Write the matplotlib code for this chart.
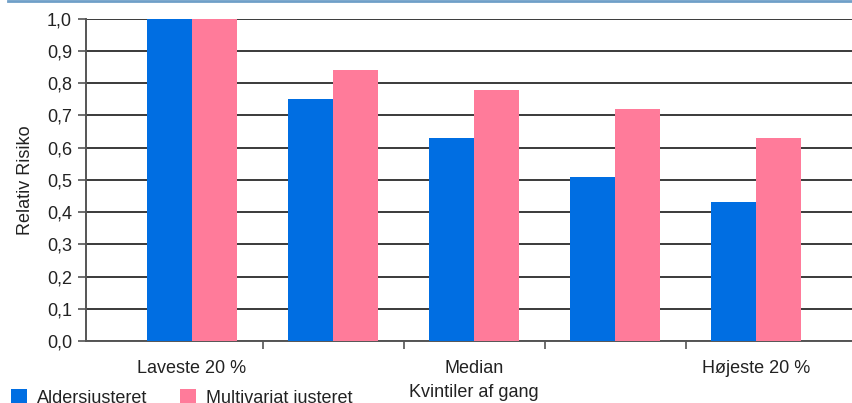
import numpy as np
import matplotlib
matplotlib.use("Agg")
from matplotlib import pyplot as plt
from matplotlib.lines import Line2D

plt.rcParams['font.family'] = ['Liberation Sans', 'DejaVu Sans']

groups = ["Laveste 20 %", "", "Median", "", "Højeste 20 %"]
aldersjusteret = [1.00, 0.75, 0.63, 0.51, 0.43]
multivariat = [1.00, 0.84, 0.78, 0.72, 0.63]
series_names = ["Aldersjusteret", "Multivariat justeret"]
yticks = [0.0, 0.1, 0.2, 0.3, 0.4, 0.5, 0.6, 0.7, 0.8, 0.9, 1.0]

blue = '#006ee2'
pink = '#ff7b9a'
txt = '#222222'

fig = plt.figure(figsize=(8.53, 4.03), dpi=100)
ax = fig.add_axes([86/853, 62/403, 1 - 86/853, (341 - 18.7)/403])

x = np.arange(len(groups))
w = 0.316
b1 = ax.bar(x - w/2, aldersjusteret, w, color=blue, zorder=3, label=series_names[0])
b2 = ax.bar(x + w/2, multivariat, w, color=pink, zorder=3, label=series_names[1])

ax.set_xlim(-0.752, 4.688)
ax.set_ylim(0, 1.0)
ax.set_yticks(yticks)
ax.set_yticklabels([("%.1f" % v).replace('.', ',') for v in yticks], fontsize=13, color=txt)
ax.yaxis.grid(True, color='#3a3a3a', linewidth=1.4, zorder=0)
ax.set_axisbelow(True)

# tick marks between groups, labels on the group centres
ax.set_xticks(x[:-1] + 0.5)
ax.set_xticklabels([])
ax.set_xticks(x, minor=True)
ax.set_xticklabels(groups, minor=True, fontsize=13, color=txt)
ax.tick_params(axis='x', which='major', length=6, width=1.2, color='#555555', direction='out')
ax.tick_params(axis='x', which='minor', length=0, pad=14)
ax.tick_params(axis='y', length=6, width=1.2, color='#555555', pad=4)

for s in ['top', 'right']:
    ax.spines[s].set_visible(False)
ax.spines['left'].set_color('#555555')
ax.spines['left'].set_linewidth(1.4)
ax.spines['bottom'].set_color('#555555')
ax.spines['bottom'].set_linewidth(1.4)

ax.set_ylabel("Relativ Risiko", fontsize=13, color=txt, labelpad=9)

fig.text(474/853, 1 - 384/403, "Kvintiler af gang", ha='center', va='top',
         fontsize=13, color=txt)

fig.legend(handles=[b1, b2], loc='upper left', bbox_to_anchor=(4/853, 1 - 382/403),
           ncol=2, frameon=False, fontsize=13, handlelength=0.85, handleheight=1.0,
           handletextpad=0.55, columnspacing=1.85, labelcolor=txt, borderaxespad=0)

fig.add_artist(Line2D([8/853, 1], [1 - 0.8/403, 1 - 0.8/403], transform=fig.transFigure,
                      color='#6f9fc8', linewidth=2))

fig.savefig("out.png", dpi=100)
